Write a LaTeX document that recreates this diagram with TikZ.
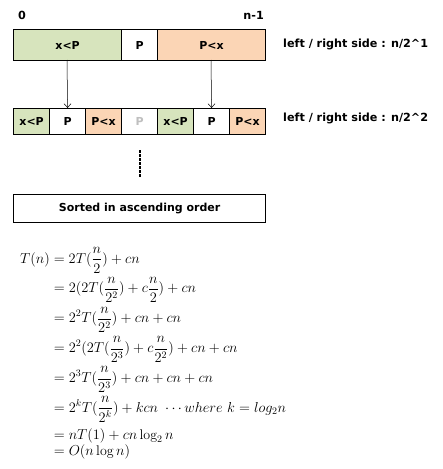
\documentclass[tikz,border=0pt]{standalone}
\usepackage{amsmath}
\usepackage{fontspec}
\setsansfont{DejaVu Sans}
\usetikzlibrary{arrows.meta}
\definecolor{lgreen}{HTML}{D7E4BD}
\definecolor{lorange}{HTML}{FBD5B5}
\definecolor{pgrey}{HTML}{BFBFBF}
\begin{document}
\begin{tikzpicture}[x=1pt,y=-1pt,
  cell/.style={draw=black,line width=1.2pt,minimum height=#1,inner sep=0pt,font=\sffamily\bfseries\fontsize{11}{13}\selectfont,anchor=north west},
  lbl/.style={font=\sffamily\bfseries\fontsize{11.2}{13}\selectfont,inner sep=0pt},
  arr/.style={->,>={Straight Barb[length=4pt,width=7pt]},line width=0.5pt}]
\useasboundingbox (0,0) rectangle (443,469);
% top row
\node[cell=31pt,fill=lgreen,minimum width=108pt] (a1) at (13,29) {x<P};
\node[cell=31pt,fill=white,minimum width=36pt] (a2) at (121,29) {P};
\node[cell=31pt,fill=lorange,minimum width=108pt] (a3) at (157,29) {P<x};
\node[lbl,anchor=west] (z0) at (18,15) {0};
\node[lbl,anchor=east] (zn) at (264,15) {n-1};
\node[lbl,anchor=west] (r1) at (283,44) {left / right side : n/2\^{}1};
% second row
\node[cell=26pt,fill=lgreen,minimum width=36pt] (b1) at (13,108) {x<P};
\node[cell=26pt,fill=white,minimum width=36pt] (b2) at (49,108) {P};
\node[cell=26pt,fill=lorange,minimum width=36pt] (b3) at (85,108) {P<x};
\node[cell=26pt,fill=white,minimum width=36pt,text=pgrey] (b4) at (121,108) {P};
\node[cell=26pt,fill=lgreen,minimum width=36pt] (b5) at (157,108) {x<P};
\node[cell=26pt,fill=white,minimum width=36pt] (b6) at (193,108) {P};
\node[cell=26pt,fill=lorange,minimum width=36pt] (b7) at (229,108) {P<x};
\node[lbl,anchor=west] (r2) at (283,118) {left / right side : n/2\^{}2};
% arrows
\coordinate (s1) at (67,60);
\coordinate (s2) at (211,60);
\draw[arr] (s1) -- (b2.north);
\draw[arr] (s2) -- (b6.north);
% dots
\draw[line width=2.5pt,dash pattern=on 2.5pt off 1.5pt] (140,150) -- (140,177);
% sorted
\node[cell=28pt,fill=white,minimum width=252pt] (c) at (13,194) {Sorted in ascending order};
% equations
\node[anchor=north west,inner sep=0pt,font=\fontsize{14}{16}\selectfont] (eq) at (20,247) {$\begin{aligned}
T(n) &= 2T(\dfrac{n}{2}) + cn\\[0pt]
&= 2(2T(\dfrac{n}{2^2}) + c\dfrac{n}{2}) + cn\\[0pt]
&= 2^2T(\dfrac{n}{2^2}) + cn + cn\\[0pt]
&= 2^2(2T(\dfrac{n}{2^3}) + c\dfrac{n}{2^2}) + cn + cn\\[0pt]
&= 2^3T(\dfrac{n}{2^3}) + cn + cn + cn\\[0pt]
&= 2^kT(\dfrac{n}{2^k}) + kcn\ \cdots where\ k = log_2 n\\[2pt]
&= nT(1) + cn\log_2 n\\[-3pt]
&= O(n\log n)
\end{aligned}$};
\end{tikzpicture}
\end{document}
